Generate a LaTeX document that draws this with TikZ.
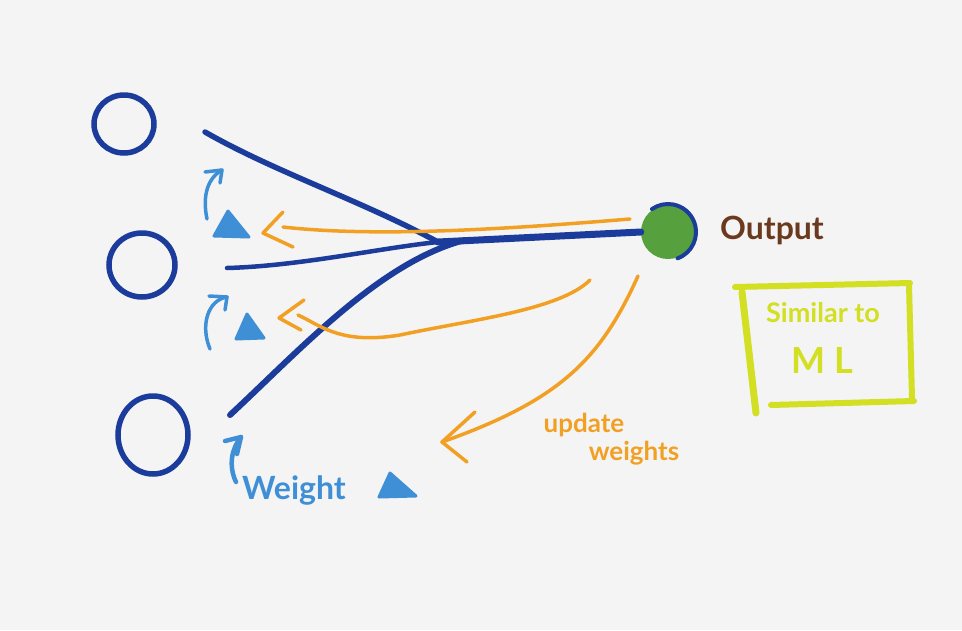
\documentclass[tikz,border=0pt]{standalone}
\usepackage{fontspec}
\setmainfont{Lato}
\usetikzlibrary{calc}
\definecolor{paper}{HTML}{F4F4F4}
\definecolor{navy}{HTML}{1C3C9C}
\definecolor{sky}{HTML}{3F8FD6}
\definecolor{amber}{HTML}{F2A024}
\definecolor{leaf}{HTML}{56A03E}
\definecolor{brownish}{HTML}{6B3A1E}
\definecolor{lime}{HTML}{D2DF22}
\tikzset{
  inputring/.style={draw=navy, line width=5.5pt},
  wire/.style={draw=navy, line cap=round, line width=5pt},
  feedback/.style={draw=amber, line cap=round, line join=round, line width=3.5pt},
  tick/.style={draw=sky, line cap=round, line join=round, line width=3.5pt},
  wtri/.style={fill=sky, draw=sky, line join=round, line width=3pt},
  frame/.style={draw=lime, line cap=round, line width=6pt},
  hand/.style={font=\fontsize{28}{30}\selectfont\bfseries},
}
\begin{document}
\begin{tikzpicture}[x=1pt,y=-1pt]
\fill[paper] (0,0) rectangle (962,630);
\useasboundingbox (0,0) rectangle (962,630);

% input neurons
\draw[inputring] (124,124) ellipse [x radius=30, y radius=29];
\draw[inputring] (142,265) ellipse [x radius=33, y radius=32];
\draw[inputring] (153,435) ellipse [x radius=35, y radius=39];

% junction and output
\coordinate (j1) at (438,242);
\coordinate (j3) at (465,240);
\node[circle, fill=leaf, minimum size=54pt, inner sep=0pt] (out) at (668,232) {};
\draw[navy, line width=4pt, line cap=round] ($(out)+(70:28)$) arc[start angle=70, end angle=-125, radius=28];

% blue wires
\coordinate (a1) at (205,132);
\coordinate (a2) at (227,268);
\coordinate (a3) at (230,415);
\draw[wire, line width=5.5pt] (a1) .. controls (275,172) and (360,200) .. (j1);
\draw[wire, line width=4.5pt] (a2) .. controls (300,266) and (380,248) .. (j1);
\draw[wire, line width=6pt] (a3) .. controls (300,350) and (380,262) .. (j3);
\draw[wire, line width=7pt] (j1) -- (out.west);

% orange feedback lines
\coordinate (o1s) at (630,219);
\coordinate (o1e) at (283,227);
\draw[feedback] (o1s) .. controls (520,228) and (380,238) .. (o1e);
\coordinate (h1) at (263,233);
\draw[feedback] (283,212) -- (h1) -- (293,247);

\coordinate (o2s) at (590,280);
\coordinate (o2e) at (298,315);
\draw[feedback] (o2s) .. controls (560,310) and (470,320) .. (400,335) .. controls (340,345) and (320,325) .. (o2e);
\coordinate (h2) at (279,318);
\draw[feedback] (304,300) -- (h2) -- (301,330);

\coordinate (o3s) at (638,276);
\coordinate (o3e) at (442,442);
\draw[feedback] (o3s) .. controls (600,360) and (560,400) .. (o3e);
\draw[feedback] (475,412) -- (o3e) -- (467,462);

\node[hand, text=amber, inner sep=0pt, font=\fontsize{26}{27}\selectfont\bfseries] (upd) at (584,425) {update};
\node[hand, text=amber, inner sep=0pt, font=\fontsize{26}{27}\selectfont\bfseries] (wts) at (634,453) {weights};

% weights (triangles) and their arrows
\draw[wtri] (228,211) -- (214,236) -- (249,237) -- cycle;
\draw[wtri] (247,314) -- (236,339) -- (264,338) -- cycle;
\draw[wtri] (390,473) -- (379,497) -- (416,496) -- cycle;

\coordinate (t1s) at (207,219);
\coordinate (t1e) at (222,170);
\draw[tick] (t1s) .. controls (202,195) and (208,178) .. (t1e);
\draw[tick] (205,172) -- (t1e) -- (220,183);
\coordinate (t2s) at (210,349);
\coordinate (t2e) at (227,297);
\draw[tick] (t2s) .. controls (200,325) and (208,300) .. (t2e);
\draw[tick] (209,296) -- (t2e) -- (225,310);
\coordinate (t3s) at (236,482);
\coordinate (t3e) at (241,437);
\draw[tick, line width=4.5pt] (t3s) .. controls (228,465) and (232,448) .. (t3e);
\draw[tick, line width=4.5pt] (225,441) -- (t3e) -- (237,454);

\node[hand, text=sky, font=\fontsize{32}{34}\selectfont\bfseries] (wlab) at (294,490) {Weight};

% output label
\node[hand, text=brownish, font=\fontsize{32}{34}\selectfont\bfseries] (outlab) at (772,230) {Output};

% similar to ML box
\draw[frame] (735,287) -- (910,283);
\draw[frame] (909,285) -- (912,398);
\draw[frame] (771,405) -- (914,401);
\draw[frame, line width=7pt] (742,292) -- (756,413);
\node[hand, text=lime, font=\fontsize{27}{29}\selectfont\bfseries] (sim) at (823,313) {Similar to};
\node[hand, text=lime, font=\fontsize{36}{38}\selectfont\bfseries] (ml) at (822,360) {M L};
\end{tikzpicture}
\end{document}
